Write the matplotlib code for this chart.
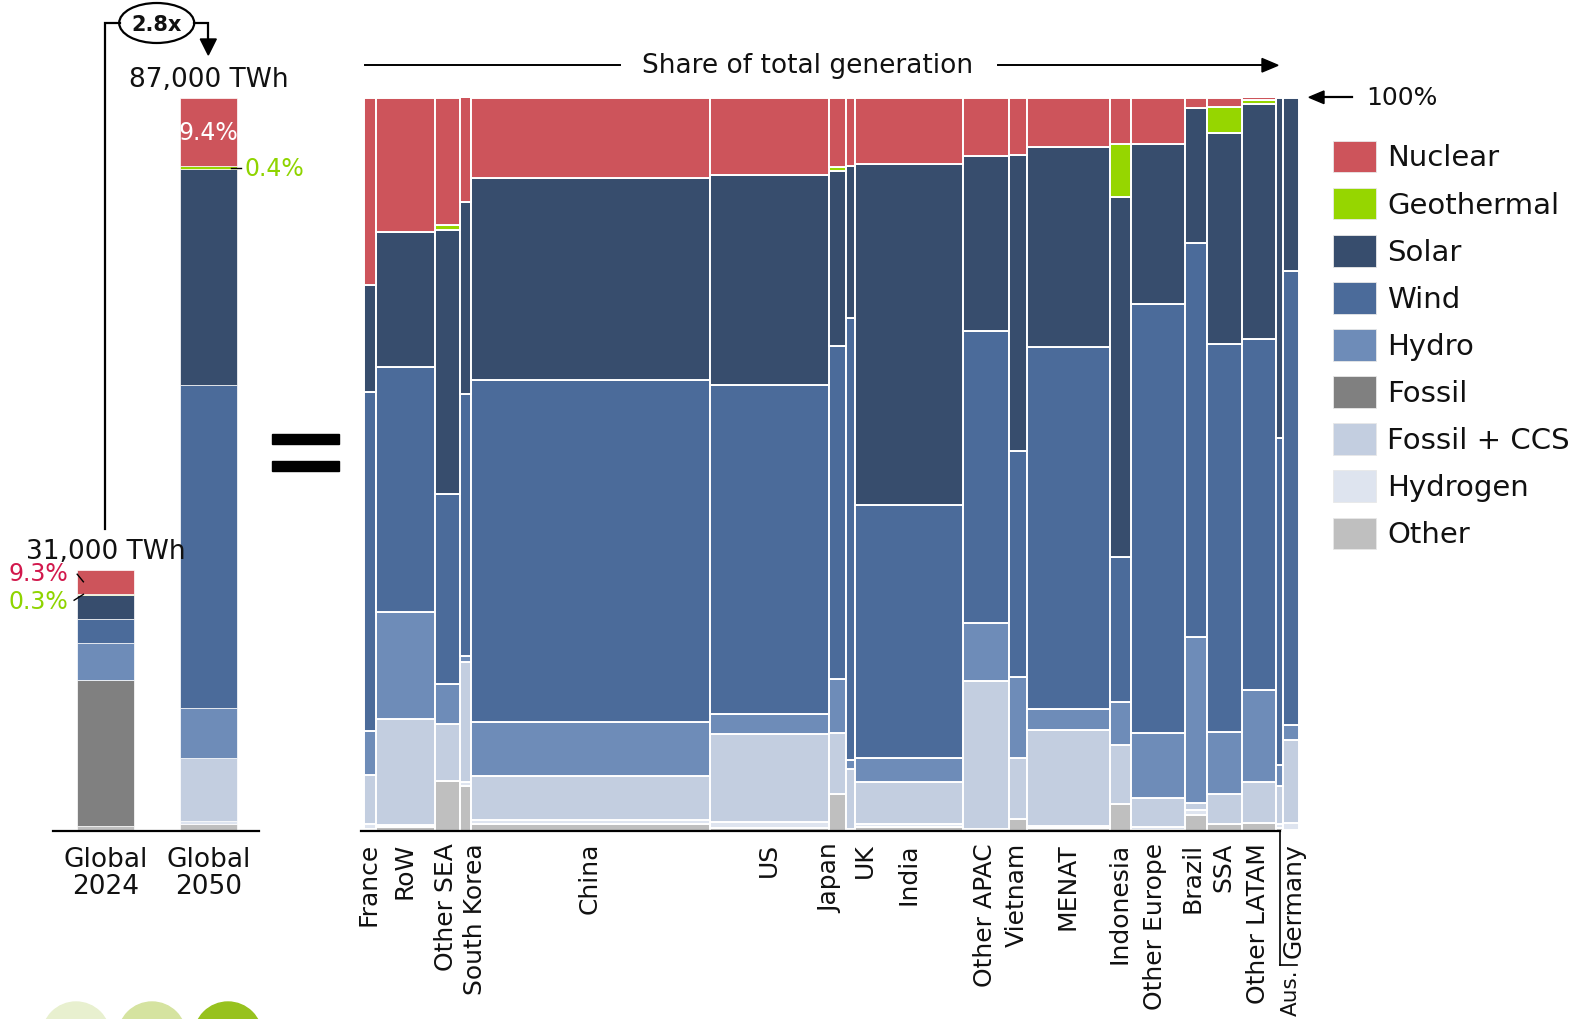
import numpy as np
import matplotlib
matplotlib.use("Agg")
import matplotlib.pyplot as plt
from matplotlib.patches import Rectangle, Ellipse, Circle, Polygon
from matplotlib.transforms import blended_transform_factory, offset_copy

plt.rcParams['font.family'] = ['DejaVu Sans']
plt.rcParams['text.color'] = '#111111'

W, H = 1575, 1020

sources = ['Nuclear', 'Geothermal', 'Solar', 'Wind', 'Hydro', 'Fossil',
           'Fossil + CCS', 'Hydrogen', 'Other']
colors = ['#cd545b', '#96d600', '#374d6d', '#4b6b9a', '#6e8cb8', '#808080',
          '#c3cee0', '#dee4ef', '#bfbfbf']

# global mix, % of generation, same order as sources
global_labels = ['Global\n2024', 'Global\n2050']
global_twh = [31000, 87000]
global_2024 = [9.3, 0.3, 9.1, 9.4, 14.1, 55.8, 0.0, 0.0, 2.0]
global_2050 = [9.4, 0.4, 29.4, 44.0, 6.8, 0.0, 8.7, 0.4, 0.9]

# 2050 generation by region (TWh) -> column widths
regions = ['France', 'RoW', 'Other SEA', 'South Korea', 'China', 'US', 'Japan',
           'UK', 'India', 'Other APAC', 'Vietnam', 'MENAT', 'Indonesia',
           'Other Europe', 'Brazil', 'SSA', 'Other LATAM', 'Aus.', 'Germany']
region_twh = [1150, 5500, 2330, 1000, 22300, 11000, 1580, 900, 10050, 4280,
              1600, 7780, 1900, 5050, 2080, 3200, 3210, 680, 1400]

# 2050 share of each source by region (%)
nuclear = [25.6, 18.4, 17.4, 14.2, 11.0, 10.6, 9.5, 9.3, 9.0, 8.0,
           7.8, 6.8, 6.3, 6.3, 1.4, 1.3, 0.3, 0.0, 0.0]
geothermal = [0.0, 0.0, 0.7, 0.0, 0.0, 0.0, 0.5, 0.0, 0.0, 0.0,
              0.0, 0.0, 7.2, 0.0, 0.0, 3.6, 0.6, 0.0, 0.0]
solar = [14.5, 18.4, 36.0, 26.2, 27.5, 28.6, 23.9, 20.8, 46.6, 23.8,
         40.4, 27.2, 49.2, 21.9, 18.4, 28.7, 32.0, 46.4, 23.6]
wind = [46.3, 33.4, 25.9, 35.8, 46.6, 44.8, 45.4, 60.2, 34.5, 39.9,
        30.8, 49.3, 19.7, 58.5, 53.7, 52.9, 47.9, 44.6, 61.9]
hydro = [6.0, 14.5, 5.4, 0.7, 7.4, 2.8, 7.4, 1.3, 3.2, 7.8,
         11.0, 2.9, 5.9, 8.8, 22.7, 8.4, 12.5, 2.8, 2.1]
fossil = [0.0, 0.0, 0.0, 0.0, 0.0, 0.0, 0.0, 0.0, 0.0, 0.0,
          0.0, 0.0, 0.0, 0.0, 0.0, 0.0, 0.0, 0.0, 0.0]
fossil_ccs = [6.7, 14.5, 7.8, 16.4, 6.0, 12.0, 8.3, 8.1, 5.7, 20.2,
              8.4, 13.1, 8.0, 4.0, 0.9, 4.1, 5.6, 5.3, 11.3]
hydrogen = [0.6, 0.3, 0.0, 0.6, 0.5, 0.8, 0.0, 0.0, 0.5, 0.3,
            0.0, 0.3, 0.0, 0.3, 0.7, 0.0, 0.0, 0.5, 0.9]
other = [0.3, 0.5, 6.8, 6.1, 1.0, 0.4, 5.0, 0.3, 0.5, 0.0,
         1.6, 0.4, 3.7, 0.2, 2.2, 1.0, 1.1, 0.4, 0.2]

# label nudges in pixels where names would collide
label_nudge = {'South Korea': 10, 'Japan': -7, 'UK': 14, 'Brazil': -4,
               'Other Europe': -3, 'Germany': 3}

fig = plt.figure(figsize=(W / 100, H / 100), dpi=100)


def box(x0, y0, x1, y1):
    return [x0 / W, 1 - y1 / H, (x1 - x0) / W, (y1 - y0) / H]


# ---- left: global totals ----
axl = fig.add_axes(box(53, 98.5, 259, 832))
axl.set_xlim(-0.51, 1.49)
axl.set_ylim(0, 87000)
axl.axis('off')
bar_w = 0.55
for j, (total, mix) in enumerate(zip(global_twh, [global_2024, global_2050])):
    vals = np.array(mix) / sum(mix) * total
    base = 0.0
    for i in reversed(range(len(sources))):
        if vals[i] > 0:
            axl.bar(j, vals[i], bottom=base, width=bar_w, color=colors[i],
                    edgecolor='white', linewidth=0.5)
        base += vals[i]
    axl.text(j, total, f'{total:,} TWh', transform=offset_copy(axl.transData, fig, y=6, units='dots'),
             ha='center', va='bottom', fontsize=19)
    axl.text(j, 0, global_labels[j], transform=offset_copy(axl.transData, fig, y=-15, units='dots'),
             ha='center', va='top', fontsize=19, linespacing=1.05)
axl.plot([-0.51, 1.49], [0, 0], color='black', lw=1.6, clip_on=False)

# nuclear / geothermal callouts
v24 = np.array(global_2024) / sum(global_2024) * global_twh[0]
v50 = np.array(global_2050) / sum(global_2050) * global_twh[1]
top24 = global_twh[0]
nuc24_mid = top24 - v24[0] / 2
geo24_mid = top24 - v24[0] - v24[1] / 2
x_l = -bar_w / 2
t = offset_copy(axl.transData, fig, x=-9, y=9, units='dots')
axl.text(x_l, nuc24_mid, f'{global_2024[0]:.1f}%', transform=t, ha='right', va='center',
         fontsize=17, color='#d2184c')
axl.plot([x_l, x_l + 0.06], [nuc24_mid + 900, nuc24_mid], color='black', lw=1, clip_on=False)
t = offset_copy(axl.transData, fig, x=-9, y=-7, units='dots')
axl.text(x_l, geo24_mid, f'{global_2024[1]:.1f}%', transform=t, ha='right', va='center',
         fontsize=17, color='#8fd400')
axl.plot([x_l - 0.03, x_l + 0.06], [geo24_mid - 700, geo24_mid], color='black', lw=1, clip_on=False)

top50 = global_twh[1]
axl.text(1, top50 - v50[0] / 2, f'{global_2050[0]:.1f}%', ha='center', va='center',
         fontsize=17, color='white')
geo50_mid = top50 - v50[0] - v50[1] / 2
x_r = 1 + bar_w / 2
axl.plot([x_r - 0.06, x_r + 0.04], [geo50_mid, geo50_mid], color='black', lw=1, clip_on=False)
axl.text(x_r + 0.07, geo50_mid, f'{global_2050[1]:.1f}%', ha='left', va='center',
         fontsize=17, color='#8fd400')

# ---- main marimekko ----
ax = fig.add_axes(box(363.5, 98.5, 1298.5, 832))
shares = np.array([nuclear, geothermal, solar, wind, hydro, fossil,
                   fossil_ccs, hydrogen, other])
shares = shares / shares.sum(axis=0) * 100
widths = np.array(region_twh, dtype=float)
lefts = np.concatenate([[0], np.cumsum(widths)[:-1]])
centers = lefts + widths / 2
base = np.zeros(len(regions))
for i in reversed(range(len(sources))):
    m = shares[i] > 0
    ax.bar(lefts[m], shares[i][m], width=widths[m], bottom=base[m], align='edge',
           color=colors[i], edgecolor='white', linewidth=1.4)
    base += shares[i]
ax.set_xlim(0, widths.sum())
ax.set_ylim(0, 100)
ax.axis('off')

aus = regions.index('Aus.')
ax.plot([-250, centers[aus]], [0, 0], color='black', lw=1.6, clip_on=False)

bt = blended_transform_factory(ax.transData, ax.transAxes)
for k, name in enumerate(regions):
    if name == 'Aus.':
        continue
    dx = label_nudge.get(name, -1)
    ax.text(centers[k], -0.015, name, transform=offset_copy(bt, fig, x=dx, units='dots'),
            rotation=90, ha='center', va='top', fontsize=18)

# Aus. leader below Germany
y_sep = -0.1827
ax.plot([centers[aus], centers[aus]], [0, y_sep], transform=bt, color='black', lw=1.2, clip_on=False)
ax.plot([centers[aus], centers[aus] + 1600], [y_sep, y_sep], transform=bt, color='black',
        lw=1.2, clip_on=False)
ax.text(centers[aus], y_sep - 0.004, 'Aus.', transform=offset_copy(bt, fig, x=11, units='dots'),
        rotation=90, ha='center', va='top', fontsize=15.5)

# ---- overlay in pixel space for annotations ----
ov = fig.add_axes([0, 0, 1, 1], zorder=5)
ov.set_xlim(0, W)
ov.set_ylim(H, 0)
ov.axis('off')
ov.patch.set_alpha(0)

# growth bracket
x24, x50, yb = 105.3, 208.3, 24
ov.plot([x24, x24, 120], [530, yb, yb], color='black', lw=1.6, solid_joinstyle='miter')
ov.plot([194, x50, x50], [yb, yb, 41], color='black', lw=1.6, solid_joinstyle='miter')
ov.add_patch(Polygon([[x50 - 8, 40], [x50 + 8, 40], [x50, 56]], closed=True, color='black'))
ov.add_patch(Ellipse((156.7, yb), 75, 40, facecolor='white', edgecolor='black', lw=1.6))
ov.text(156.7, yb + 1, f'{global_twh[1] / global_twh[0]:.1f}x', ha='center', va='center',
        fontsize=15, fontweight='bold')

# equals sign
ov.add_patch(Rectangle((272, 435), 66.5, 10, color='black'))
ov.add_patch(Rectangle((272, 462), 66.5, 10, color='black'))

# header arrow
ov.plot([365, 620], [66.3, 66.3], color='black', lw=1.4)
ov.plot([998, 1266], [66.3, 66.3], color='black', lw=1.4)
ov.add_patch(Polygon([[1262, 59.5], [1262, 73], [1278, 66.3]], closed=True, color='black'))
ov.text(808, 66.3, 'Share of total generation', ha='center', va='center', fontsize=19)

# 100% marker
ov.plot([1322, 1352], [98.3, 98.3], color='black', lw=1.6)
ov.add_patch(Polygon([[1324, 92], [1324, 104.6], [1309, 98.3]], closed=True, color='black'))
ov.text(1366, 98.3, '100%', ha='left', va='center', fontsize=18)

# legend
for i, (name, c) in enumerate(zip(sources, colors)):
    yc = 157.5 + 47.1 * i
    ov.add_patch(Rectangle((1333.3, yc - 15.8), 42.7, 31.6, facecolor=c,
                           edgecolor='#e8e8e8', lw=0.6))
    ov.text(1387, yc + 1, name, ha='left', va='center', fontsize=21)

# decorative dots at bottom-left
for cx, c in zip([76, 152, 228], ['#e8f0cf', '#d5e3a0', '#97c21e']):
    ov.add_patch(Circle((cx, 1037), 34, color=c, clip_on=False))

fig.savefig('out.png', dpi=100)
